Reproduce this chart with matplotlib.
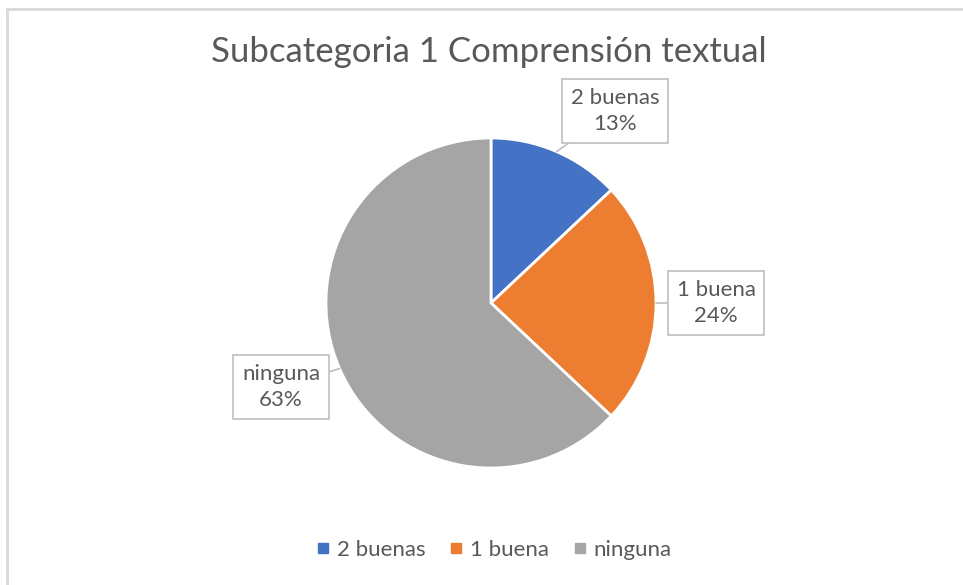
import numpy as np
import matplotlib.pyplot as plt
from matplotlib.lines import Line2D

# ----- Data -----
labels = ["2 buenas", "1 buena", "ninguna"]
shares = [13, 24, 63]
colors = ["#4472C4", "#ED7D31", "#A5A5A5"]
title = "Subcategoria 1 Comprensión textual"

# label box centres, in pie radius units
box_pos = [(0.752, 1.164), (1.364, 0.0), (-1.273, -0.509)]

W, H = 963, 585
plt.rcParams["font.family"] = ["Lato", "DejaVu Sans"]
txt = "#595959"

fig = plt.figure(figsize=(W / 100, H / 100), dpi=100)

# pie axes: centre (491, 303) px, radius 165 px
cx, cy, r = 491, 303, 165
ax = fig.add_axes([(cx - r) / W, (H - cy - r) / H, 2 * r / W, 2 * r / H])
wedges, _ = ax.pie(
    shares,
    colors=colors,
    startangle=90,
    counterclock=False,
    wedgeprops=dict(edgecolor="white", linewidth=2),
)
ax.set_xlim(-1, 1)
ax.set_ylim(-1, 1)
ax.set_aspect("equal")
ax.axis("off")

# callout labels pointing at middle of each slice edge
cum = np.cumsum([0] + shares[:-1])
for lab, s, c0, (bx, by) in zip(labels, shares, cum, box_pos):
    ang = np.deg2rad(90 - (c0 + s / 2) / 100 * 360)
    px, py = np.cos(ang), np.sin(ang)
    ax.annotate(
        f"{lab}\n{s}%",
        xy=(px, py),
        xytext=(bx, by),
        ha="center", va="center",
        fontsize=16, color=txt, linespacing=1.4,
        bbox=dict(boxstyle="square,pad=0.4", fc="white", ec="#BFBFBF", lw=1.2),
        arrowprops=dict(arrowstyle="-", color="#BFBFBF", lw=1.2, shrinkA=0, shrinkB=0),
        annotation_clip=False,
    )

fig.text(0.508, 1 - 52 / H, title, ha="center", va="center", fontsize=25, color=txt)

handles = [Line2D([], [], ls="none", marker="s", ms=7, mfc=c, mec=c) for c in colors]
fig.legend(
    handles, labels, loc="center", bbox_to_anchor=(0.513, 1 - 550 / H),
    ncol=3, frameon=False, fontsize=16, handlelength=0.6, handletextpad=0.3,
    columnspacing=1.1, labelcolor=txt,
)

# chart area border (left and top edges visible)
fig.add_artist(Line2D([7 / W, 7 / W], [0, 1 - 9 / H], color="#D9D9D9", lw=2))
fig.add_artist(Line2D([7 / W, 1], [1 - 9 / H, 1 - 9 / H], color="#D9D9D9", lw=2))

fig.savefig("out.png", dpi=100, facecolor="white")
